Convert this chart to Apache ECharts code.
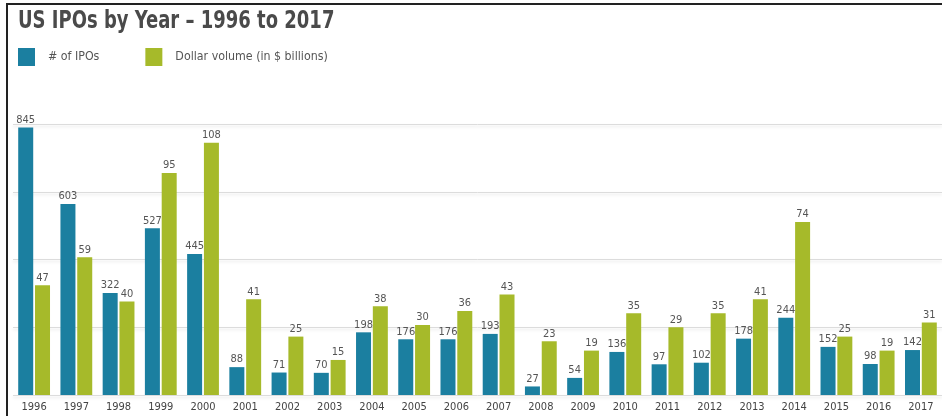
<!DOCTYPE html>
<html>
<head>
<meta charset="utf-8">
<script src="https://cdn.jsdelivr.net/npm/echarts@6/dist/echarts.min.js"></script>
<style>
  html, body { margin: 0; padding: 0; background: #ffffff; }
  #chart { width: 942px; height: 416px; }
</style>
</head>
<body>
<div id="chart"></div>
<script>
// US IPO activity, 1996–2017
const years = ['1996', '1997', '1998', '1999', '2000', '2001', '2002', '2003', '2004', '2005', '2006',
               '2007', '2008', '2009', '2010', '2011', '2012', '2013', '2014', '2015', '2016', '2017'];
const ipoCount = [845, 603, 322, 527, 445, 88, 71, 70, 198, 176, 176,
                  193, 27, 54, 136, 97, 102, 178, 244, 152, 98, 142];
const dollarVolume = [47, 59, 40, 95, 108, 41, 25, 15, 38, 30, 36,
                      43, 23, 19, 35, 29, 35, 41, 74, 25, 19, 31];

const NARROW = '"DejaVu Sans Condensed", "Liberation Sans Narrow", "Roboto", sans-serif';
const BLUE = '#1b7fa0';
const GREEN = '#a6ba2a';

const chart = echarts.init(document.getElementById('chart'), null, { renderer: 'canvas' });

const valueLabel = {
  show: true,
  position: 'top',
  distance: 2,
  fontFamily: NARROW,
  fontSize: 11,
  color: '#555555'
};

chart.setOption({
  animation: false,
  backgroundColor: '#ffffff',
  legend: {
    left: 13,
    top: 43,
    icon: 'rect',
    itemWidth: 17,
    itemHeight: 18,
    itemGap: 46,
    textStyle: {
      fontFamily: NARROW,
      fontSize: 12.3,
      color: '#555555',
      padding: [0, 0, 0, 8]
    },
    data: ['# of IPOs', 'Dollar volume (in $ billions)']
  },
  grid: {
    left: 13,
    top: 124,
    width: 934,
    bottom: 21,
    containLabel: false
  },
  xAxis: {
    type: 'category',
    data: years,
    axisLine: { show: false },
    axisTick: { show: false },
    axisLabel: {
      margin: 7,
      fontFamily: NARROW,
      fontSize: 11,
      color: '#444444'
    }
  },
  yAxis: [
    {
      type: 'value',
      min: 0,
      max: 856,
      interval: 214,
      axisLabel: { show: false },
      axisLine: { show: false },
      axisTick: { show: false },
      splitLine: {
        show: true,
        lineStyle: {
          color: '#dcdcdc',
          width: 1,
          shadowColor: 'rgba(0,0,0,0.12)',
          shadowBlur: 3,
          shadowOffsetY: 2
        }
      }
    },
    {
      type: 'value',
      min: 0,
      max: 116,
      show: false,
      splitLine: { show: false }
    }
  ],
  series: [
    {
      name: '# of IPOs',
      type: 'bar',
      yAxisIndex: 0,
      data: ipoCount,
      barWidth: 15,
      barGap: '12%',
      itemStyle: { color: BLUE },
      label: valueLabel
    },
    {
      name: 'Dollar volume (in $ billions)',
      type: 'bar',
      yAxisIndex: 1,
      data: dollarVolume,
      barWidth: 15,
      barGap: '12%',
      itemStyle: { color: GREEN },
      label: valueLabel
    }
  ],
  graphic: [
    // heading, set in a tightened condensed bold face
    {
      type: 'text',
      x: 18,
      y: 9,
      scaleX: 0.8,
      style: {
        text: 'US IPOs by Year – 1996 to 2017',
        fontFamily: NARROW,
        fontSize: 25,
        fontWeight: 'bold',
        fill: '#4a4a4a',
        textVerticalAlign: 'top'
      }
    },
    // frame edges along the top and left
    {
      type: 'line',
      shape: { x1: 6, y1: 4, x2: 942, y2: 4 },
      style: { stroke: '#222222', lineWidth: 2 }
    },
    {
      type: 'line',
      shape: { x1: 7, y1: 3, x2: 7, y2: 416 },
      style: { stroke: '#222222', lineWidth: 2 }
    }
  ]
});
</script>
</body>
</html>
